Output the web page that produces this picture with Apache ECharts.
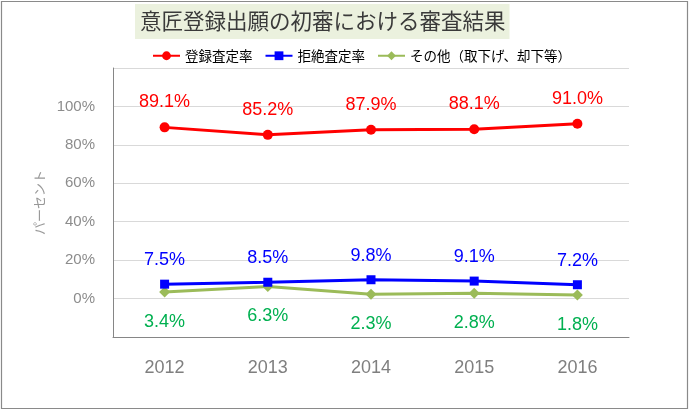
<!DOCTYPE html>
<html>
<head>
<meta charset="utf-8">
<script src="https://cdn.jsdelivr.net/npm/echarts@6/dist/echarts.min.js"></script>
<style>html,body{margin:0;padding:0;background:#fff;}#c{width:689px;height:411px;}</style>
</head>
<body>
<div id="c"></div>
<script>
const titleText = '意匠登録出願の初審における審査結果';
const categories = ['2012', '2013', '2014', '2015', '2016'];
const seriesNames = ['登録査定率', '拒絶査定率', 'その他（取下げ、却下等）'];
const registered = [89.1, 85.2, 87.9, 88.1, 91.0];
const rejected = [7.5, 8.5, 9.8, 9.1, 7.2];
const others = [3.4, 6.3, 2.3, 2.8, 1.8];
const yTickLabels = ['0%', '20%', '40%', '60%', '80%', '100%'];
const yAxisName = 'パーセント';

const chart = echarts.init(document.getElementById('c'), null, {renderer: 'canvas'});
const labelFont = 'Liberation Sans';
const cjk = '"Noto Sans CJK JP"';

function mkSeries(name, data, color, labelColor, symbol, size, pos, dist) {
  return {
    name: name, type: 'line', data: data,
    symbol: symbol, symbolSize: size,
    lineStyle: {color: color, width: 3},
    itemStyle: {color: color},
    label: {
      show: true, position: pos, distance: dist,
      color: labelColor, fontSize: 18, fontFamily: labelFont,
      formatter: p => p.value.toFixed(1) + '%'
    },
    emphasis: {disabled: true},
    animation: false
  };
}

chart.setOption({
  backgroundColor: '#ffffff',
  animation: false,
  title: {
    text: titleText,
    left: 135, top: 4,
    backgroundColor: '#EBF1DE',
    padding: [4, 4, 5, 5],
    textStyle: {fontFamily: cjk, fontSize: 21.5, fontWeight: 'normal', color: '#3a3a3a', lineHeight: 26}
  },
  legend: {
    data: seriesNames,
    left: 147, top: 44,
    itemWidth: 27, itemHeight: 11, itemGap: 12,
    textStyle: {fontFamily: cjk, fontSize: 13.5, color: '#000'}
  },
  graphic: [{
    type: 'rect', silent: true, z: -1,
    shape: {x: 1.5, y: 1.5, width: 686, height: 407},
    style: {fill: 'none', stroke: '#8a8a8a', lineWidth: 1.2}
  }],
  grid: {left: 113, right: 60, top: 68, bottom: 74},
  xAxis: {
    type: 'category', data: categories, boundaryGap: true,
    axisLine: {onZero: false, lineStyle: {color: '#868686', width: 1}},
    axisTick: {show: false},
    axisLabel: {color: '#7f7f7f', fontSize: 18, fontFamily: labelFont, margin: 22}
  },
  yAxis: {
    type: 'value', min: -20, max: 120, interval: 20,
    name: yAxisName, nameLocation: 'middle', nameRotate: 90, nameGap: 66,
    nameTextStyle: {color: '#999999', fontSize: 13, fontFamily: cjk},
    axisLine: {show: true, lineStyle: {color: '#868686', width: 1}},
    axisTick: {show: false},
    axisLabel: {
      color: '#8c8c8c', fontSize: 15, fontFamily: labelFont, margin: 18,
      formatter: v => { const i = yTickLabels.indexOf(v + '%'); return i >= 0 ? yTickLabels[i] : ''; }
    },
    splitLine: {lineStyle: {color: '#d9d9d9', width: 1}}
  },
  series: [
    mkSeries(seriesNames[0], registered, '#FF0000', '#FF0000', 'circle', 10, 'top', 11),
    mkSeries(seriesNames[2], others, '#9BBB59', '#00B050', 'diamond', 11, 'bottom', 15.5),
    mkSeries(seriesNames[1], rejected, '#0000FF', '#0000FF', 'rect', 9, 'top', 10.5)
  ]
});
</script>
</body>
</html>
